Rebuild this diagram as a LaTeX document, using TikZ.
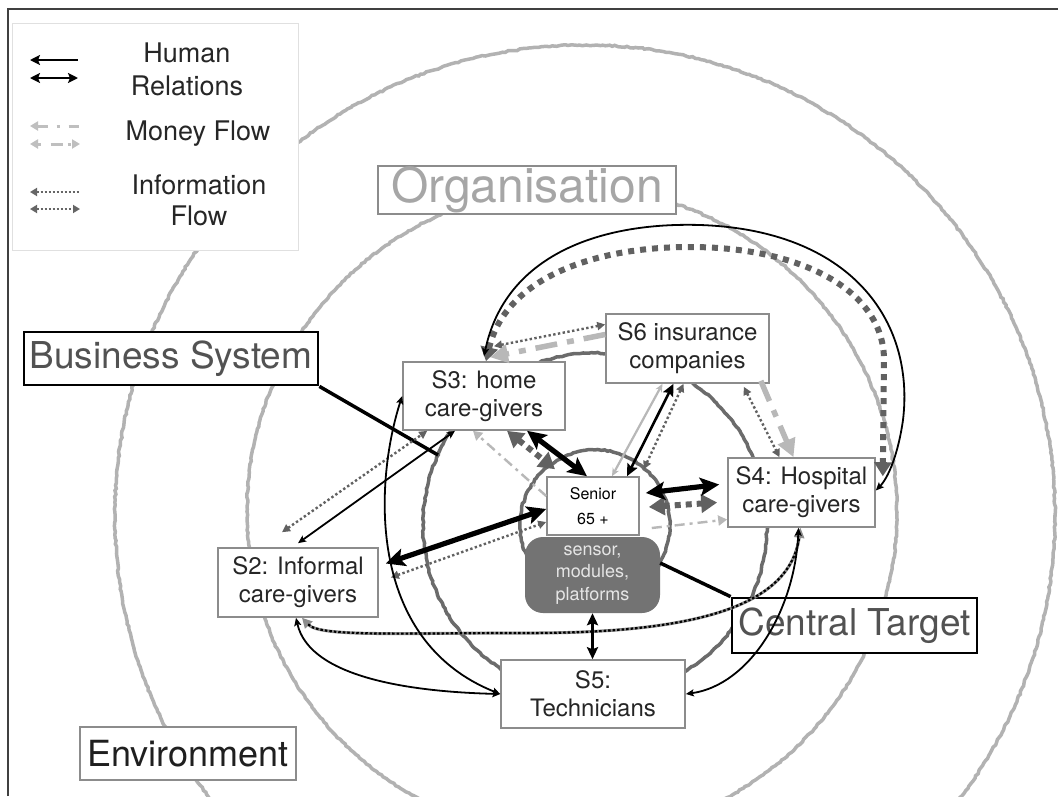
\documentclass[tikz,border=0pt]{standalone}
\usepackage{fontspec}
\setmainfont{TeX Gyre Heros}
\usetikzlibrary{arrows.meta,decorations.pathmorphing}
\begin{document}
\begin{tikzpicture}[x=1pt,y=-1pt,
  ringlight/.style={draw=black!30, line width=3.5pt, decorate, decoration={random steps, segment length=3pt, amplitude=0.7pt}},
  ringdark/.style={draw=black!58, line width=3.5pt, decorate, decoration={random steps, segment length=3pt, amplitude=0.7pt}},
  sbox/.style={draw=black!45, line width=1.6pt, fill=white, text=black!85, align=center, font=\fontsize{24}{28}\selectfont, inner sep=0pt},
  callout/.style={draw=black, line width=2.8pt, fill=white, text=black!68, font=\fontsize{37}{40}\selectfont, inner sep=0pt},
  labelbox/.style={draw=black!45, line width=1.2pt, fill=white, inner sep=0pt},
  legtext/.style={anchor=base, text=black!85, font=\fontsize{27}{30}\selectfont},
  pointer/.style={draw=black, line width=3.5pt},
  hrbig/.style={draw=black, line width=5.2pt, arrows={Stealth[length=19pt,width=18pt,inset=4pt]-Stealth[length=19pt,width=18pt,inset=4pt]}},
  hrmid/.style={draw=black, line width=2.6pt, arrows={Stealth[length=12pt,width=11pt,inset=2pt]-Stealth[length=12pt,width=11pt,inset=2pt]}},
  hrsml/.style={draw=black, line width=1.8pt, arrows={Stealth[length=8pt,width=7pt,inset=1.5pt]-Stealth[length=8pt,width=7pt,inset=1.5pt]}},
  infosml/.style={draw=black!62, line width=2.4pt, dash pattern=on 2.4pt off 2.4pt, arrows={Triangle[length=8pt,width=8pt]-Triangle[length=8pt,width=8pt]}},
  infobig/.style={draw=black!62, line width=6pt, dash pattern=on 6pt off 5pt, arrows={Triangle[length=16pt,width=18pt]-Triangle[length=16pt,width=18pt]}},
  moneysml/.style={draw=black!28, line width=2.4pt, dash pattern=on 10pt off 5pt on 3pt off 5pt},
  moneybig/.style={draw=black!28, line width=5.5pt, dash pattern=on 22pt off 10pt on 7pt off 10pt},
  lightrel/.style={draw=black!28, line width=2.2pt, arrows={Stealth[length=8pt,width=7pt]-Stealth[length=8pt,width=7pt]}}
]
\useasboundingbox (0,0) rectangle (1058,796);
\fill[white] (0,0) rectangle (1058,796);
\draw[black!75, line width=2pt] (8,796) |- (1058,9);

% rings
\draw[ringlight] (585,515) circle[radius=470];
\draw[ringlight] (572,512) circle[radius=325];
\draw[ringdark] (595,525) circle[radius=172];
\draw[ringdark] (595,525) circle[radius=75];

% legend
\node[draw=black!12, line width=1pt, fill=white, minimum width=286pt, minimum height=227pt, inner sep=0pt] (legend) at (155,136.5) {};
\draw[black, line width=2.6pt, arrows={Stealth[length=10pt,width=10pt,inset=2pt]-}] (30,60) -- (78,60);
\draw[black, line width=2.6pt, arrows={Stealth[length=10pt,width=10pt,inset=2pt]-Stealth[length=10pt,width=10pt,inset=2pt]}] (30,78) -- (78,78);
\draw[draw=black!25, line width=3pt, dash pattern=on 10pt off 9pt on 3pt off 9pt, arrows={Triangle[length=8pt,width=9pt]-}] (30,126) -- (80,126);
\draw[draw=black!25, line width=3pt, dash pattern=on 3pt off 10pt on 12pt off 5pt, arrows={Triangle[length=8pt,width=9pt]-Triangle[length=8pt,width=9pt]}] (30,144) -- (80,144);
\draw[draw=black!60, line width=2.4pt, dash pattern=on 2pt off 2pt, arrows={Triangle[length=7pt,width=8pt]-}] (30,192) -- (80,192);
\draw[draw=black!60, line width=2.4pt, dash pattern=on 2pt off 2pt, arrows={Triangle[length=7pt,width=8pt]-Triangle[length=7pt,width=8pt]}] (30,209) -- (80,209);
\node[legtext] (lh1) at (187,62) {Human};
\node[legtext] (lh2) at (187,95) {Relations};
\node[legtext] (lm) at (198,140) {Money Flow};
\node[legtext] (li1) at (199,194) {Information};
\node[legtext] (li2) at (199,225) {Flow};

% labels
\node[labelbox, text=black!35, font=\fontsize{48}{50}\selectfont, minimum width=298pt, minimum height=48pt] (org) at (527,190) {Organisation};
\node[labelbox, text=black!88, font=\fontsize{36}{40}\selectfont, minimum width=216pt, minimum height=53pt] (env) at (188,753.5) {Environment};
\node[callout, minimum width=294pt, minimum height=53pt] (bs) at (171,358.5) {Business System};
\node[callout, minimum width=245pt, minimum height=55pt] (ct) at (854.5,625.5) {Central Target};

% stakeholder boxes
\node[sbox, minimum width=162pt, minimum height=68pt] (s3) at (484,396) {S3: home\\care-givers};
\node[sbox, minimum width=163pt, minimum height=69pt] (s6) at (687.5,348.5) {S6 insurance\\companies};
\node[sbox, minimum width=147pt, minimum height=69pt] (s4) at (801.5,492.5) {S4: Hospital\\care-givers};
\node[sbox, minimum width=160pt, minimum height=69pt] (s2) at (298,582.5) {S2: Informal\\care-givers};
\node[sbox, minimum width=184pt, minimum height=68pt] (s5) at (593,694) {S5:\\Technicians};
\node[sbox, text=black, font=\fontsize{16}{25}\selectfont, minimum width=92pt, minimum height=58pt] (senior) at (593,506) {Senior\\65 +};
\node[fill=black!55, rounded corners=18pt, text=black!10, align=center, font=\fontsize{18}{22.5}\selectfont, minimum width=135pt, minimum height=76pt, inner sep=0pt] (sensor) at (592.5,575) {sensor,\\modules,\\platforms};

% pointers of the callouts
\coordinate (bsend) at (438,455);
\draw[pointer] (bs.south east) -- (bsend);
\draw[pointer] ([yshift=12pt]sensor.east) -- (ct.north west);

% information flow
\draw[infobig, dash pattern=on 6pt off 6pt, arrows={Triangle[length=14pt,width=17pt]-Triangle[length=14pt,width=17pt]}]
  ([xshift=2pt]s3.north) .. controls (505,280) and (590,247) .. (690,247)
  .. controls (800,247) and (884,290) .. (884,360) -- ([xshift=7pt,yshift=-19pt]s4.north east);
\draw[infosml] ([xshift=10pt,yshift=15pt]s3.north) -- ([yshift=24pt]s6.west);
\draw[infosml] ([xshift=-16pt,yshift=15pt]s2.north) -- ([xshift=25pt]s3.south west);
\draw[infosml] ([xshift=12pt,yshift=5pt]s2.east) -- ([yshift=-16pt]senior.west);
\draw[infosml] ([xshift=-4pt]s6.south) -- ([xshift=4pt,yshift=7pt]senior.north east);
\draw[infosml] ([xshift=-26pt,yshift=-3pt]s6.south east) -- ([xshift=-22pt]s4.north);
\draw[infobig] ([xshift=9pt,yshift=-1pt]senior.east) -- ([xshift=-10pt,yshift=-10pt]s4.west);
\draw[infobig] ([xshift=23pt]s3.south) -- ([xshift=-38pt,yshift=7pt]senior.north);
\draw[draw=black!45, line width=3pt, arrows={Triangle[length=10pt,width=10pt]-Triangle[length=10pt,width=10pt]},
      postaction={draw=black, line width=2.2pt, dash pattern=on 2.5pt off 2pt, arrows=-, shorten <=9pt, shorten >=9pt}]
  ([xshift=4pt]s2.south) .. controls (320,637) and (400,633) .. (520,633)
  .. controls (700,634) and (790,605) .. ([xshift=-1pt]s4.south);

% money flow
\draw[moneybig, arrows=-{Triangle[length=18pt,width=18pt]}] ([yshift=14pt]s6.west) -- ([xshift=6pt,yshift=4pt]s3.north);
\draw[moneybig, arrows=-{Triangle[length=18pt,width=18pt]}] ([xshift=-9pt,yshift=3pt]s6.south east) -- ([xshift=-8pt]s4.north);
\draw[moneysml, arrows=-{Triangle[length=9pt,width=10pt]}] ([yshift=10pt]senior.west) -- ([xshift=-11pt]s3.south);
\draw[moneysml, arrows=-{Triangle[length=9pt,width=10pt]}] ([xshift=12pt,yshift=-22pt]senior.east) -- ([yshift=-27pt]s4.west);
\draw[lightrel] ([xshift=-25pt]s6.south) -- ([xshift=19pt]senior.north);

% human relations
\draw[hrbig] ([xshift=43pt]s3.south) -- ([xshift=-6pt]senior.north);
\draw[hrbig] ([xshift=6pt,yshift=13pt]senior.east) -- ([xshift=-8pt,yshift=8pt]s4.west);
\draw[hrbig] ([yshift=-3pt]senior.west) -- ([xshift=7pt,yshift=19pt]s2.east);
\draw[hrmid] ([xshift=-14pt]s6.south) -- ([xshift=34pt]senior.north);
\draw[hrmid] (sensor.south) -- (sensor.south |- s5.north);
\draw[hrsml] ([yshift=4pt]s2.north) -- ([xshift=-29pt]s3.south);
\draw[hrsml] (s3.west) .. controls (375,480) and (365,640) .. (s5.west);
\draw[hrsml] ([xshift=-2pt]s2.south) .. controls (310,680) and (420,692) .. (s5.west);
\draw[hrsml] (s5.east) .. controls (750,685) and (795,610) .. ([xshift=-3pt]s4.south);
\draw[hrsml] ([yshift=5pt]s3.north) .. controls (505,255) and (600,222) .. (700,225)
  .. controls (850,230) and (915,320) .. (903,420) .. controls (898,455) and (888,478) .. ([yshift=2pt]s4.east);
\end{tikzpicture}
\end{document}
